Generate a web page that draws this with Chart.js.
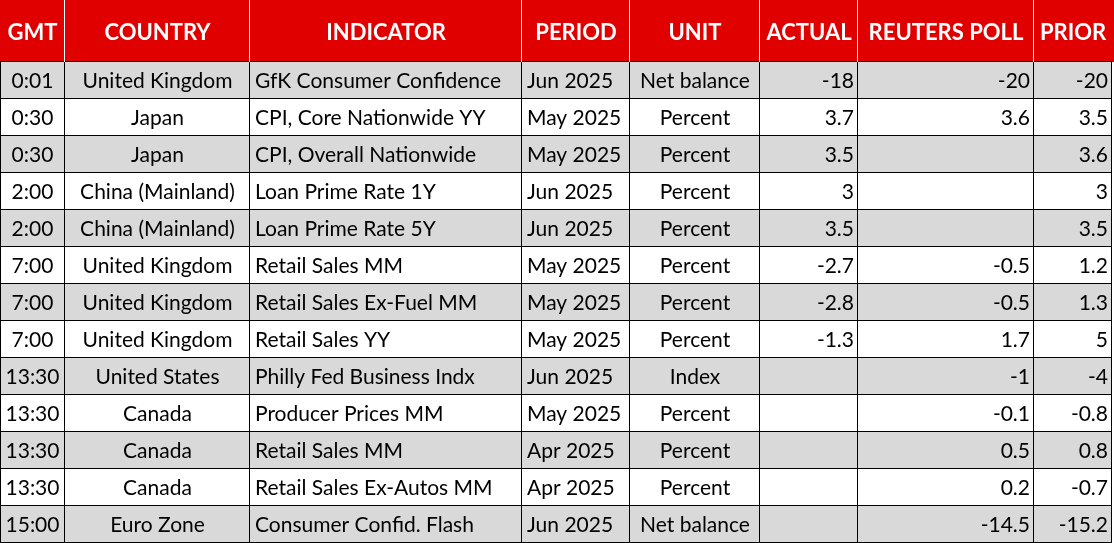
<!DOCTYPE html>
<html><head><meta charset="utf-8">
<script src="https://cdn.jsdelivr.net/npm/chart.js@4/dist/chart.umd.min.js"></script>
<style>html,body{margin:0;padding:0;background:#fff}#wrap{width:1114px;height:543px}</style>
</head><body><div id="wrap"><canvas id="tbl"></canvas></div>
<script>
const headers = ['GMT', 'COUNTRY', 'INDICATOR', 'PERIOD', 'UNIT', 'ACTUAL', 'REUTERS POLL', 'PRIOR'];
const gmt = ['0:01','0:30','0:30','2:00','2:00','7:00','7:00','7:00','13:30','13:30','13:30','13:30','15:00'];
const country = ['United Kingdom','Japan','Japan','China (Mainland)','China (Mainland)','United Kingdom','United Kingdom','United Kingdom','United States','Canada','Canada','Canada','Euro Zone'];
const indicator = ['GfK Consumer Confidence','CPI, Core Nationwide YY','CPI, Overall Nationwide','Loan Prime Rate 1Y','Loan Prime Rate 5Y','Retail Sales MM','Retail Sales Ex-Fuel MM','Retail Sales YY','Philly Fed Business Indx','Producer Prices MM','Retail Sales MM','Retail Sales Ex-Autos MM','Consumer Confid. Flash'];
const period = ['Jun 2025','May 2025','May 2025','Jun 2025','Jun 2025','May 2025','May 2025','May 2025','Jun 2025','May 2025','Apr 2025','Apr 2025','Jun 2025'];
const unit = ['Net balance','Percent','Percent','Percent','Percent','Percent','Percent','Percent','Index','Percent','Percent','Percent','Net balance'];
const actual = ['-18','3.7','3.5','3','3.5','-2.7','-2.8','-1.3','','','','',''];
const poll = ['-20','3.6','','','','-0.5','-0.5','1.7','-1','-0.1','0.5','0.2','-14.5'];
const prior = ['-20','3.5','3.6','3','3.5','1.2','1.3','5','-4','-0.8','0.8','-0.7','-15.2'];

const colEdges = [0, 65, 250, 522, 630, 760, 858, 1034, 1112];
const align = ['center','center','left','left','center','right','right','right'];
const headerBottom = 62, rowH = 37;

const tablePlugin = {
  id: 'table',
  afterDraw(chart) {
    const ctx = chart.ctx, x = chart.scales.x, y = chart.scales.y;
    const cols = [gmt, country, indicator, period, unit, actual, poll, prior];
    const X = v => x.getPixelForValue(v), Y = v => y.getPixelForValue(v);
    ctx.save();
    // header
    ctx.fillStyle = '#e00000';
    ctx.fillRect(X(0), Y(0), X(1114) - X(0), Y(headerBottom) - Y(0));
    // rows
    for (let r = 0; r < gmt.length; r++) {
      const top = headerBottom + r * rowH;
      ctx.fillStyle = r % 2 === 0 ? '#d9d9d9' : '#ffffff';
      ctx.fillRect(X(0), Y(top), X(1112) - X(0), Y(top + rowH) - Y(top));
    }
    // grid
    ctx.strokeStyle = '#000'; ctx.lineWidth = 1;
    for (let r = 0; r <= gmt.length; r++) {
      const yy = Math.round(Y(headerBottom + r * rowH)) - 0.5;
      ctx.beginPath(); ctx.moveTo(X(0), yy); ctx.lineTo(X(1112), yy); ctx.stroke();
    }
    colEdges.forEach((c, i) => {
      const xx = Math.round(X(c)) + (i === 0 ? 0.5 : -0.5);
      ctx.strokeStyle = '#000';
      ctx.beginPath(); ctx.moveTo(xx, Y(headerBottom)); ctx.lineTo(xx, Y(543)); ctx.stroke();
      if (i > 0 && i < colEdges.length - 1) {
        ctx.strokeStyle = '#ffffff';
        ctx.beginPath(); ctx.moveTo(xx, Y(0)); ctx.lineTo(xx, Y(headerBottom)); ctx.stroke();
      }
    });
    // header text
    ctx.textBaseline = 'middle';
    ctx.fillStyle = '#fff';
    ctx.font = 'bold 22px Lato, "Open Sans", sans-serif';
    ctx.textAlign = 'center';
    headers.forEach((h, i) => ctx.fillText(h, (X(colEdges[i]) + X(colEdges[i + 1])) / 2, Y(33)));
    // cells
    ctx.fillStyle = '#000';
    ctx.font = '21px Lato, "Open Sans", sans-serif';
    cols.forEach((col, i) => {
      const a = align[i];
      ctx.textAlign = a;
      const l = X(colEdges[i]), rr = X(colEdges[i + 1]);
      const px = a === 'center' ? (l + rr) / 2 : a === 'left' ? l + 5 : rr - 4;
      col.forEach((v, r) => ctx.fillText(v, px, Y(headerBottom + r * rowH + rowH / 2 + 1)));
    });
    ctx.restore();
  }
};

new Chart(document.getElementById('tbl').getContext('2d'), {
  type: 'scatter',
  data: { datasets: [{ data: [] }] },
  options: {
    responsive: true, maintainAspectRatio: false, animation: false,
    layout: { padding: 0 },
    plugins: { legend: { display: false }, tooltip: { enabled: false } },
    scales: {
      x: { type: 'linear', min: 0, max: 1114, display: false },
      y: { type: 'linear', min: 0, max: 543, reverse: true, display: false }
    }
  },
  plugins: [tablePlugin]
});
</script></body></html>
